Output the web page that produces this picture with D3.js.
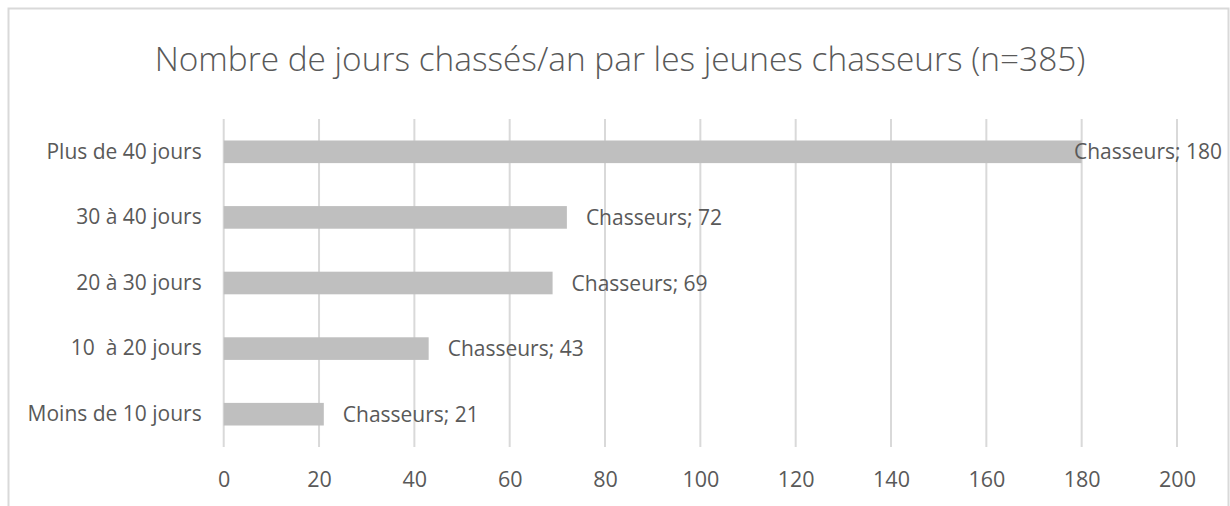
<!DOCTYPE html>
<html>
<head>
<meta charset="utf-8">
<script src="https://cdn.jsdelivr.net/npm/d3@7.8.5/dist/d3.min.js"></script>
<style>
  body { margin: 0; background: #fff; }
  svg { display: block; }
  text { font-family: "Open Sans", "DejaVu Sans", sans-serif; fill: #595959; white-space: pre; }
</style>
</head>
<body>
<div id="chart"></div>
<script>
// data, top to bottom as in the chart
const categories = ["Plus de 40 jours", "30 à 40 jours", "20 à 30 jours", "10  à 20 jours", "Moins de 10 jours"];
const values = [180, 72, 69, 43, 21];
const seriesName = "Chasseurs";
const tickValues = [0, 20, 40, 60, 80, 100, 120, 140, 160, 180, 200];
const title = "Nombre de jours chassés/an par les jeunes chasseurs (n=385)";

const width = 1230;
const height = 506;
const plot = { left: 223.7, right: 1177, top: 119, bottom: 447 };

const svg = d3.select("#chart")
  .append("svg")
  .attr("width", width)
  .attr("height", height);

// chart frame
svg.append("rect")
  .attr("x", 8.5)
  .attr("y", 8.5)
  .attr("width", 1220)
  .attr("height", 520)
  .attr("fill", "none")
  .attr("stroke", "#d9d9d9")
  .attr("stroke-width", 2);

svg.append("text")
  .attr("x", 620)
  .attr("y", 71)
  .attr("text-anchor", "middle")
  .style("font-size", "33.4px")
  .style("font-weight", 300)
  .text(title);

const x = d3.scaleLinear()
  .domain([0, 200])
  .range([plot.left, plot.right]);

const y = d3.scaleBand()
  .domain(categories)
  .range([plot.top, plot.bottom])
  .paddingInner(0.655)
  .paddingOuter(0.655 / 2);

// vertical gridlines
svg.append("g")
  .selectAll("line")
  .data(tickValues)
  .join("line")
  .attr("x1", d => x(d))
  .attr("x2", d => x(d))
  .attr("y1", plot.top)
  .attr("y2", plot.bottom)
  .attr("stroke", "#d9d9d9")
  .attr("stroke-width", 2);

// x axis labels
const xAxis = svg.append("g")
  .attr("transform", `translate(0, ${plot.bottom})`)
  .call(d3.axisBottom(x).tickValues(tickValues).tickSize(0).tickPadding(25));
xAxis.select(".domain").remove();
xAxis.selectAll("text")
  .style("font-size", "21.5px")
  .style("font-family", "\"Open Sans\", sans-serif")
  .attr("fill", "#595959");

// category labels
const yAxis = svg.append("g")
  .attr("transform", `translate(${plot.left}, 0)`)
  .call(d3.axisLeft(y).tickSize(0).tickPadding(22));
yAxis.select(".domain").remove();
yAxis.selectAll("text")
  .style("font-size", "21px")
  .style("font-family", "\"Open Sans\", sans-serif")
  .attr("fill", "#595959");

// bars
svg.append("g")
  .selectAll("rect")
  .data(values)
  .join("rect")
  .attr("x", x(0))
  .attr("y", (d, i) => y(categories[i]))
  .attr("width", d => x(d) - x(0))
  .attr("height", y.bandwidth())
  .attr("fill", "#bfbfbf");

// data labels
const labels = svg.append("g")
  .selectAll("text")
  .data(values)
  .join("text")
  .attr("y", (d, i) => y(categories[i]) + y.bandwidth() / 2)
  .attr("dy", "0.36em")
  .style("font-size", "21px")
  .text(d => `${seriesName}; ${d}`);

labels.attr("x", function (d) {
  const w = this.getComputedTextLength();
  return Math.min(x(d) + 19, 1222 - w);
});
</script>
</body>
</html>
